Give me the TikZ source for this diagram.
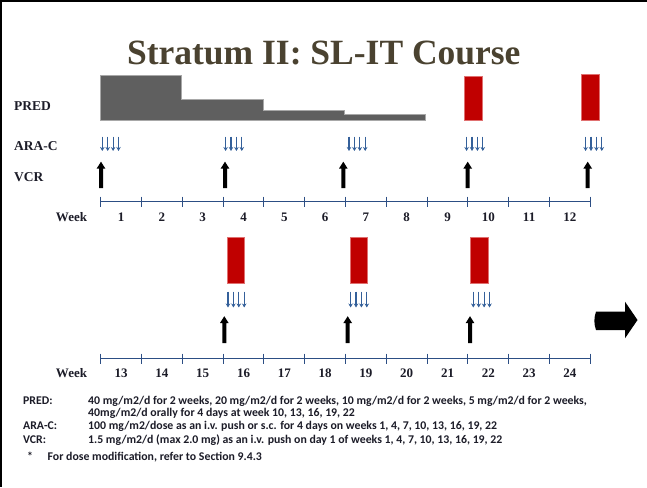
\documentclass[tikz,border=0pt]{standalone}
\usepackage{fontspec}
\setmainfont{Liberation Serif}
\newfontfamily\notefont{Carlito}
\usetikzlibrary{arrows.meta}
\definecolor{titlecol}{HTML}{4A4230}
\definecolor{grayfill}{HTML}{5F5F5F}
\definecolor{grayedge}{HTML}{A8A8A8}
\definecolor{redfill}{HTML}{C00000}
\definecolor{rededge}{HTML}{E07070}
\definecolor{tlblue}{HTML}{2C4E84}
\definecolor{arablue}{HTML}{34609A}
\definecolor{labcol}{HTML}{1C1C28}
\begin{document}
\begin{tikzpicture}[x=1pt,y=-1pt,
  rowlab/.style={font=\fontsize{13.5}{16}\selectfont\bfseries, text=labcol, anchor=west, inner sep=0pt},
  wklab/.style={font=\fontsize{13}{15}\selectfont\bfseries, text=labcol, inner sep=0pt},
  note/.style={font=\notefont\bfseries\fontsize{11.8}{13}\selectfont, text=labcol, anchor=base west, inner sep=0pt},
  redbar/.style={fill=redfill, draw=rededge, line width=0.5pt},
  tline/.style={draw=tlblue, line width=1.3pt},
  tickmark/.style={draw=tlblue, line width=1.1pt},
  vcrarrow/.style={fill=black},
  araarrow/.style={draw=arablue, line width=1.1pt, -{Stealth[length=4pt,width=4.5pt]}},
  bigarrow/.style={fill=black}
]
\useasboundingbox (0,0) rectangle (647,487);
\fill[white] (0,0) rectangle (647,487);
% frame (top and left edges)
\draw[line width=1.5pt] (0,1.2) -- (647,1.2);
\draw[line width=1.5pt] (0.8,0) -- (0.8,487);

% title
\node[anchor=base, font=\fontsize{35.5}{40}\selectfont\bfseries, text=titlecol, inner sep=0pt] (title) at (323.8,64) {Stratum II: SL-IT Course};

% row labels
\node[rowlab] (lpred) at (14,106) {PRED};
\node[rowlab] (lara) at (14,146) {ARA-C};
\node[rowlab] (lvcr) at (14,176.7) {VCR};

% PRED taper
\filldraw[fill=grayfill, draw=grayedge, line width=0.6pt]
  (100,75) -- (181,75) -- (181,99.3) -- (263.3,99.3) -- (263.3,110) -- (344.3,110)
  -- (344.3,114) -- (425,114) -- (425,120.5) -- (100,120.5) -- cycle;

% red PRED pulses
\filldraw[redbar] (464.3,76) rectangle (482,120.5);
\filldraw[redbar] (581.7,74.3) rectangle (599.3,120.5);
\filldraw[redbar] (227.3,237.7) rectangle (244.3,283.3);
\filldraw[redbar] (350,237.7) rectangle (367.3,283.3);
\filldraw[redbar] (470,237.7) rectangle (488.7,283.3);

% ARA-C arrows
\foreach \s in {100,223.3,346.7,464.3,583.3}
  \foreach \k in {0,...,3}
    \draw[araarrow] ({\s+2.3+5.4*\k},136.5) -- ({\s+2.3+5.4*\k},151);
\foreach \s in {225.7,348.3,471}
  \foreach \k in {0,...,3}
    \draw[araarrow] ({\s+2.3+5.4*\k},291.5) -- ({\s+2.3+5.4*\k},307.5);

% VCR arrows
\foreach \x in {101,225,343.3,467.7,587.7}
  \fill[vcrarrow] ({\x-2},188) -- ({\x-2},168.5) -- ({\x-4.3},168.5) -- (\x,161.7)
    -- ({\x+4.3},168.5) -- ({\x+2},168.5) -- ({\x+2},188) -- cycle;
\foreach \x in {224.3,347.7,470}
  \fill[vcrarrow] ({\x-2},343) -- ({\x-2},323) -- ({\x-4.3},323) -- (\x,316.2)
    -- ({\x+4.3},323) -- ({\x+2},323) -- ({\x+2},343) -- cycle;

% timelines
\draw[tline] (100.7,201.7) -- (590.3,201.7);
\draw[tline] (100.7,358.7) -- (590.3,358.7);
\foreach \i in {0,...,12} {
  \draw[tickmark] ({100.7+40.8*\i},196.7) -- ({100.7+40.8*\i},206.7);
  \draw[tickmark] ({100.7+40.8*\i},353.7) -- ({100.7+40.8*\i},363.7);
}

% week labels
\node[wklab] (wk1) at (71.5,217) {Week};
\node[wklab] (wk2) at (71.5,373.5) {Week};
\foreach \i in {1,...,12} {
  \pgfmathtruncatemacro\nn{\i+12}
  \node[wklab] (w\i) at ({100.7+40.8*(\i-0.5)},217) {\i};
  \node[wklab] (w\nn) at ({100.7+40.8*(\i-0.5)},373.5) {\nn};
}

% continuation arrow
\fill[bigarrow] (596,311.7) -- (625,311.7) -- (625,301.7) -- (637.5,320) -- (625,338.3)
  -- (625,330) -- (596,330) .. controls (593.8,324) and (593.8,317.7) .. (596,311.7) -- cycle;

% notes
\node[note] (npl) at (23,404.5) {PRED:};
\node[note] (npt1) at (88,404.5) {40 mg/m2/d for 2 weeks, 20 mg/m2/d for 2 weeks, 10 mg/m2/d for 2 weeks, 5 mg/m2/d for 2 weeks,};
\node[note] (npt2) at (88,416.5) {40mg/m2/d orally for 4 days at week 10, 13, 16, 19, 22};
\node[note] (nal) at (23,429.5) {ARA-C:};
\node[note] (nat) at (88,429.5) {100 mg/m2/dose as an i.v. push or s.c. for 4 days on weeks 1, 4, 7, 10, 13, 16, 19, 22};
\node[note] (nvl) at (23,443.5) {VCR:};
\node[note] (nvt) at (88,443.5) {1.5 mg/m2/d (max 2.0 mg) as an i.v. push on day 1 of weeks 1, 4, 7, 10, 13, 16, 19, 22};
\node[note] (nstar) at (27,460.5) {*};
\node[note] (nfn) at (47.5,460.5) {For dose modification, refer to Section 9.4.3};
\end{tikzpicture}
\end{document}
